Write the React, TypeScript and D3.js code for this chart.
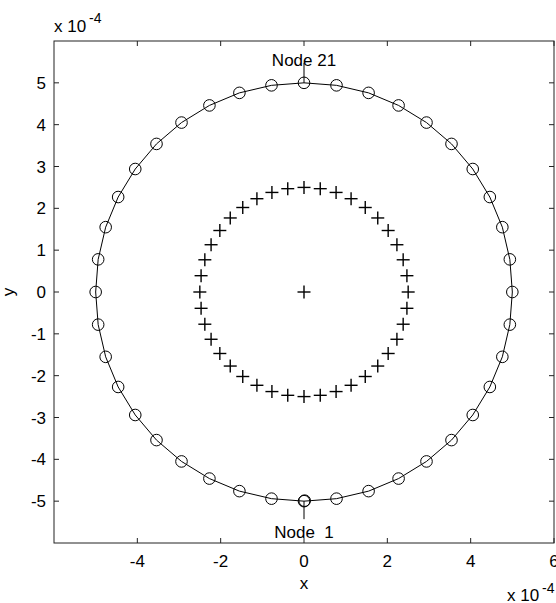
import React from 'react';
import * as d3 from 'd3';

// outer ring: nodes 1..40 (units of 1e-4), node 1 at the bottom, node 21 at the top
const outerX = [
  0, 0.78, 1.55, 2.27, 2.94, 3.54, 4.05, 4.46, 4.76, 4.94,
  5, 4.94, 4.76, 4.46, 4.05, 3.54, 2.94, 2.27, 1.55, 0.78,
  0, -0.78, -1.55, -2.27, -2.94, -3.54, -4.05, -4.46, -4.76, -4.94,
  -5, -4.94, -4.76, -4.46, -4.05, -3.54, -2.94, -2.27, -1.55, -0.78,
];
const outerY = [
  -5, -4.94, -4.76, -4.46, -4.05, -3.54, -2.94, -2.27, -1.55, -0.78,
  0, 0.78, 1.55, 2.27, 2.94, 3.54, 4.05, 4.46, 4.76, 4.94,
  5, 4.94, 4.76, 4.46, 4.05, 3.54, 2.94, 2.27, 1.55, 0.78,
  0, -0.78, -1.55, -2.27, -2.94, -3.54, -4.05, -4.46, -4.76, -4.94,
];

// inner points (+ markers), first one is the centre
const innerX = [
  0,
  0, 0.39, 0.77, 1.13, 1.47, 1.77, 2.02, 2.23, 2.38, 2.47,
  2.5, 2.47, 2.38, 2.23, 2.02, 1.77, 1.47, 1.13, 0.77, 0.39,
  0, -0.39, -0.77, -1.13, -1.47, -1.77, -2.02, -2.23, -2.38, -2.47,
  -2.5, -2.47, -2.38, -2.23, -2.02, -1.77, -1.47, -1.13, -0.77, -0.39,
];
const innerY = [
  0,
  -2.5, -2.47, -2.38, -2.23, -2.02, -1.77, -1.47, -1.13, -0.77, -0.39,
  0, 0.39, 0.77, 1.13, 1.47, 1.77, 2.02, 2.23, 2.38, 2.47,
  2.5, 2.47, 2.38, 2.23, 2.02, 1.77, 1.47, 1.13, 0.77, 0.39,
  0, -0.39, -0.77, -1.13, -1.47, -1.77, -2.02, -2.23, -2.38, -2.47,
];

const xTicks = [-4, -2, 0, 2, 4, 6];
const yTicks = [-5, -4, -3, -2, -1, 0, 1, 2, 3, 4, 5];
const nodeLabels = [
  { idx: 0, text: 'Node  1' },
  { idx: 20, text: 'Node 21' },
];

const W = 556;
const H = 603;
const FONT = 'Liberation Sans, Arial, sans-serif';

export default function App() {
  const x = d3.scaleLinear().domain([-6, 6]).range([54, 554]);
  const y = d3.scaleLinear().domain([-6, 6]).range([543, 41]);
  const [x0, x1] = x.range();
  const [y0, y1] = y.range();
  const tick = 5;

  const outer = outerX.map((v, i) => [v, outerY[i]] as [number, number]);
  const inner = innerX.map((v, i) => [v, innerY[i]] as [number, number]);

  const ring = d3
    .line<[number, number]>()
    .x((d) => x(d[0]))
    .y((d) => y(d[1]))
    .curve(d3.curveLinearClosed)(outer);

  const pl = 6.5; // half size of + marker

  return (
    <svg
      width={W}
      height={H}
      style={{ position: 'absolute', left: 0, top: 0, background: '#fff' }}
      fontFamily={FONT}
      fontSize={17}
    >
      <rect width={W} height={H} fill="#fff" />

      {/* outer ring */}
      <path d={ring || ''} fill="none" stroke="#000" strokeWidth={1} />
      {outer.map((d, i) => (
        <circle key={'o' + i} cx={x(d[0])} cy={y(d[1])} r={5.8} fill="none" stroke="#000" strokeWidth={1} />
      ))}
      {/* node 1 drawn twice */}
      <circle cx={x(outer[0][0]) + 0.7} cy={y(outer[0][1]) - 0.5} r={5.8} fill="none" stroke="#000" strokeWidth={1} />

      {/* inner + markers */}
      {inner.map((d, i) => {
        const cx = x(d[0]);
        const cy = y(d[1]);
        return (
          <g key={'p' + i} stroke="#000" strokeWidth={1.4}>
            <line x1={cx - pl} x2={cx + pl} y1={cy} y2={cy} />
            <line x1={cx} x2={cx} y1={cy - pl} y2={cy + pl} />
          </g>
        );
      })}

      {/* node labels with leader lines */}
      {nodeLabels.map((n) => {
        const cx = x(outerX[n.idx]);
        const cy = y(outerY[n.idx]);
        const below = outerY[n.idx] < 0;
        return (
          <g key={n.text}>
            <line x1={cx} x2={cx} y1={cy} y2={below ? cy + 18 : cy - 20} stroke="#000" strokeWidth={1} />
            <text
              x={cx}
              y={below ? cy + 37 : cy - 17}
              textAnchor="middle"
              style={{ whiteSpace: 'pre' }}
            >
              {n.text}
            </text>
          </g>
        );
      })}

      {/* axes box */}
      <rect x={x0} y={y1} width={x1 - x0} height={y0 - y1} fill="none" stroke="#222" strokeWidth={1} />
      {xTicks.map((t) => (
        <g key={'xt' + t}>
          <line x1={x(t)} x2={x(t)} y1={y0} y2={y0 - tick} stroke="#222" />
          <line x1={x(t)} x2={x(t)} y1={y1} y2={y1 + tick} stroke="#222" />
          <text x={x(t)} y={567} textAnchor="middle">
            {t}
          </text>
        </g>
      ))}
      {yTicks.map((t) => (
        <g key={'yt' + t}>
          <line x1={x0} x2={x0 + tick} y1={y(t)} y2={y(t)} stroke="#222" />
          <line x1={x1} x2={x1 - tick} y1={y(t)} y2={y(t)} stroke="#222" />
          <text x={46} y={y(t)} dy="0.36em" textAnchor="end">
            {t}
          </text>
        </g>
      ))}

      {/* axis labels */}
      <text x={x(0)} y={589} textAnchor="middle">
        x
      </text>
      <text transform={`translate(14,${y(0)}) rotate(-90)`} textAnchor="middle">
        y
      </text>

      {/* exponent labels */}
      <text x={54} y={32}>
        x 10
      </text>
      <text x={89} y={23} fontSize={14}>
        -4
      </text>
      <text x={507} y={601}>
        x 10
      </text>
      <text x={542} y={593} fontSize={14}>
        -4
      </text>
    </svg>
  );
}
